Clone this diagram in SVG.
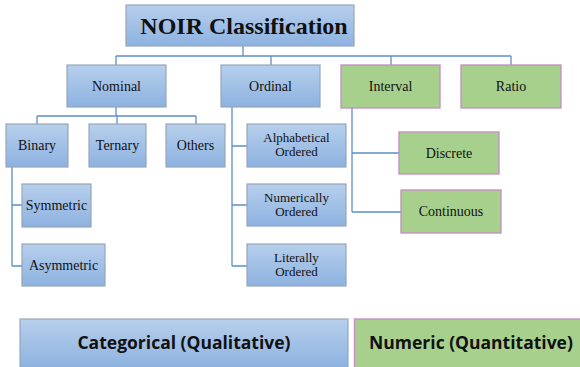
<svg xmlns="http://www.w3.org/2000/svg" width="580" height="367" viewBox="0 0 580 367">
<defs>
<linearGradient id="gb" x1="0" y1="0" x2="0" y2="1">
<stop offset="0" stop-color="#b7cfec"/>
<stop offset="1" stop-color="#8db2e0"/>
</linearGradient>
<style>
.b{fill:url(#gb);stroke:#97a6b8;stroke-width:1.2}
.g{fill:#a8d08d;stroke:#c58ac6;stroke-width:1.3}
.t{font-family:"Liberation Serif","Times New Roman",serif;font-size:14px;fill:#111;text-anchor:middle}
.t2{font-family:"Liberation Serif","Times New Roman",serif;font-size:13px;fill:#111;text-anchor:middle}
.h{font-family:"Liberation Serif","Times New Roman",serif;font-size:24px;font-weight:bold;fill:#111;text-anchor:middle}
.s{font-family:"Open Sans","Liberation Sans",sans-serif;font-size:17.5px;font-weight:bold;fill:#111;text-anchor:middle}
.c{fill:none;stroke:#5d8fc6;stroke-width:1.3}
</style>
</defs>
<rect width="580" height="367" fill="#fff"/>
<g id="connectors" class="c">
<path d="M243 46V56M116 56H511M116 56V65M271 56V65M391 56V65M511 56V65"/>
<path d="M116 107V116M37 116H196M37 116V124M117 116V124M196 116V124"/>
<path d="M12 167V266M12 205H22M12 266H22"/>
<path d="M232 107V266M232 146H247M232 205H247M232 266H247"/>
<path d="M352 108V212M352 153H399M352 212H401"/>
</g>
<g id="title"><rect class="b" x="126" y="5" width="228" height="41"/><text class="h" x="244" y="34">NOIR Classification</text></g>
<g id="nominal"><rect class="b" x="67" y="65" width="99" height="42"/><text class="t" x="116.5" y="90.5">Nominal</text></g>
<g id="ordinal"><rect class="b" x="221" y="65" width="99" height="42"/><text class="t" x="270.5" y="90.5">Ordinal</text></g>
<g id="interval"><rect class="g" x="341" y="65" width="99" height="43"/><text class="t" x="390.5" y="90.5">Interval</text></g>
<g id="ratio"><rect class="g" x="461" y="65" width="100" height="43"/><text class="t" x="511" y="90.5">Ratio</text></g>
<g id="binary"><rect class="b" x="6" y="124" width="62" height="43"/><text class="t" x="37" y="150">Binary</text></g>
<g id="ternary"><rect class="b" x="89" y="124" width="57" height="43"/><text class="t" x="117.5" y="150">Ternary</text></g>
<g id="others"><rect class="b" x="166" y="124" width="59" height="43"/><text class="t" x="195.5" y="150">Others</text></g>
<g id="symmetric"><rect class="b" x="22" y="184" width="69" height="43"/><text class="t" x="56.5" y="210">Symmetric</text></g>
<g id="asymmetric"><rect class="b" x="22" y="244" width="83" height="42"/><text class="t" x="63.5" y="270">Asymmetric</text></g>
<g id="alphabetical"><rect class="b" x="247" y="124" width="99" height="43"/><text class="t2" x="296.5" y="142">Alphabetical</text><text class="t2" x="296.5" y="156">Ordered</text></g>
<g id="numerically"><rect class="b" x="247" y="184" width="99" height="42"/><text class="t2" x="296.5" y="202">Numerically</text><text class="t2" x="296.5" y="216">Ordered</text></g>
<g id="literally"><rect class="b" x="247" y="244" width="99" height="42"/><text class="t2" x="296.5" y="262">Literally</text><text class="t2" x="296.5" y="276">Ordered</text></g>
<g id="discrete"><rect class="g" x="399" y="132" width="100" height="42"/><text class="t" x="449" y="158">Discrete</text></g>
<g id="continuous"><rect class="g" x="401" y="190" width="100" height="43"/><text class="t" x="451" y="216">Continuous</text></g>
<g id="categorical"><rect class="b" x="20" y="319" width="328" height="49"/><text class="s" x="184" y="349">Categorical (Qualitative)</text></g>
<g id="numeric"><rect class="g" x="354.5" y="319" width="227" height="49"/><text class="s" x="471" y="349">Numeric (Quantitative)</text></g>
</svg>
